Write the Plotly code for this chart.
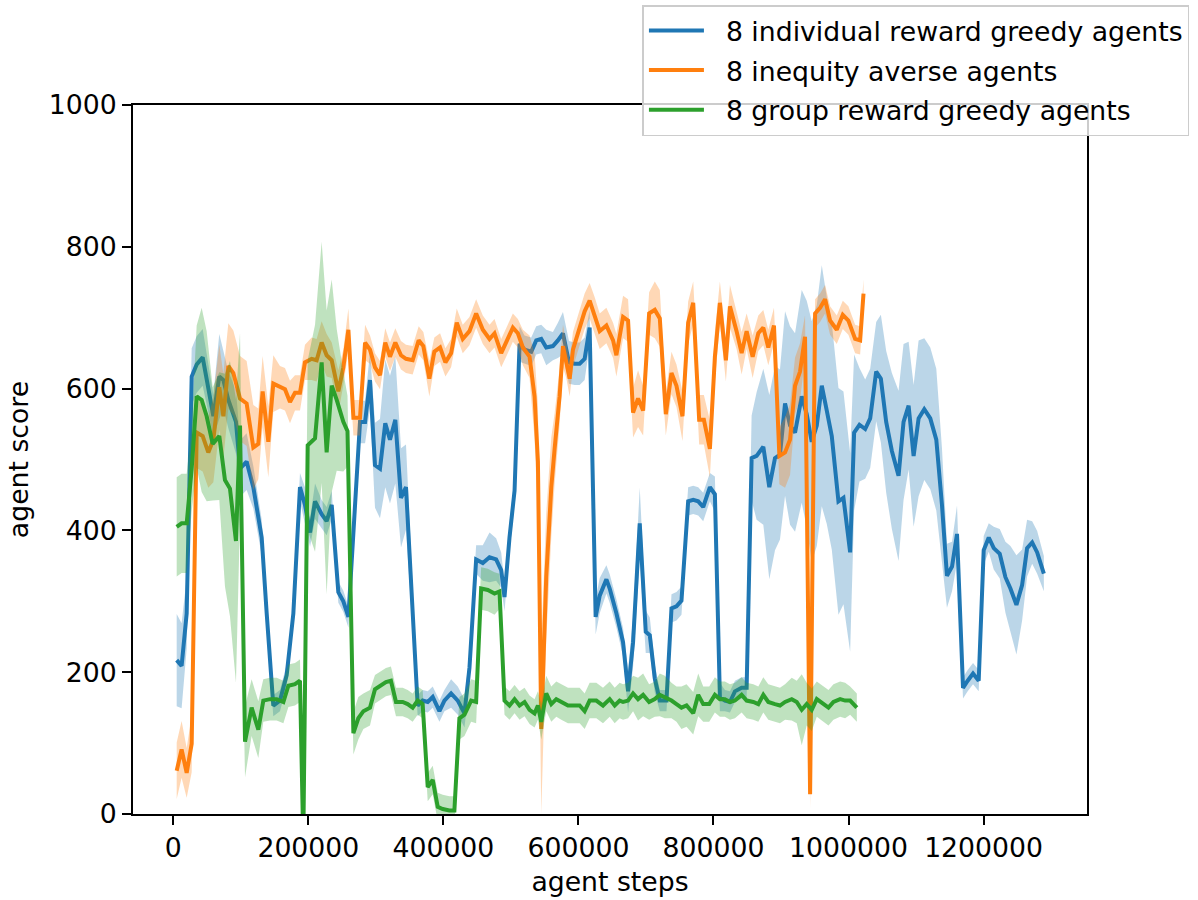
import plotly.graph_objects as go

# ---------------- data ----------------
blue_x = [5000, 12300, 19800, 27200, 34600, 43500, 50400, 59300, 68100, 74100,
          81500, 92800, 98800, 108600, 118500, 130900, 138300, 148100, 158000, 167900,
          177800, 187600, 195000, 202500, 209900, 219700, 227100, 234600, 244400, 251800,
          259300, 276500, 284000, 291300, 298700, 306100, 313900, 320900, 328800, 337200,
          344600, 352000, 361900, 369300, 376800, 384200, 394100, 401500, 411400, 421300,
          431200, 438600, 448500, 458400, 468300, 478100, 485600, 490500, 497900, 505400,
          512800, 520200, 530100, 537500, 544900, 552300, 562200, 569600, 577100, 586000,
          594400, 601800, 609200, 616600, 625500, 631500, 641400, 646300, 656200, 666100,
          673500, 680900, 690800, 699700, 705700, 713100, 720500, 730400, 737800, 745200,
          752600, 762500, 770000, 777400, 784800, 794700, 802100, 809500, 817000, 824400,
          831800, 841700, 849100, 856500, 863900, 873800, 882700, 891100, 898500, 906000,
          913400, 920800, 930700, 938100, 945500, 953000, 960400, 967800, 975200, 985100,
          992500, 1002400, 1008300, 1016200, 1024700, 1032100, 1041000, 1047900, 1055800, 1064200,
          1074100, 1081500, 1089000, 1096400, 1103800, 1112200, 1121100, 1130000, 1138400, 1145800,
          1153300, 1160700, 1169600, 1176500, 1184400, 1192800, 1200200, 1207700, 1215100, 1224000,
          1232400, 1239800, 1248700, 1257100, 1264500, 1272000, 1279400, 1289300]
blue_y = [217, 209, 283, 617, 634, 644, 608, 561, 617, 612,
          584, 553, 487, 497, 461, 390, 283, 153, 160, 196,
          283, 461, 436, 397, 441, 423, 413, 436, 313, 300,
          278, 553, 553, 612, 492, 487, 551, 528, 556, 446,
          461, 334, 153, 160, 158, 165, 145, 160, 170, 160,
          142, 206, 359, 354, 362, 359, 344, 306, 390, 456,
          663, 655, 652, 668, 670, 658, 660, 668, 678, 637,
          635, 635, 642, 686, 278, 308, 331, 318, 283, 242,
          173, 242, 410, 257, 252, 191, 160, 160, 290, 293,
          301, 441, 443, 441, 433, 461, 451, 165, 160, 158,
          173, 178, 178, 502, 505, 518, 461, 502, 507, 579,
          548, 538, 589, 564, 525, 548, 604, 569, 533, 441,
          446, 369, 538, 549, 543, 558, 624, 614, 553, 512,
          477, 553, 576, 505, 558, 571, 558, 528, 436, 336,
          349, 395, 178, 188, 198, 188, 372, 390, 375, 367,
          334, 318, 295, 323, 375, 383, 369, 339]
blue_spread = [65, 60, 50, 40, 40, 40, 35, 30, 60, 40,
               40, 45, 40, 40, 30, 25, 20, 15, 15, 15,
               15, 20, 25, 20, 25, 20, 20, 20, 15, 15,
               15, 30, 30, 40, 60, 70, 90, 90, 90, 70,
               60, 40, 15, 15, 15, 15, 15, 15, 20, 20,
               20, 20, 20, 25, 35, 30, 25, 20, 20, 20,
               25, 20, 20, 20, 20, 25, 20, 25, 30, 30,
               30, 30, 30, 25, 25, 25, 20, 20, 20, 20,
               30, 35, 50, 30, 25, 20, 15, 15, 20, 20,
               20, 20, 20, 20, 20, 20, 25, 20, 15, 15,
               15, 15, 15, 60, 90, 110, 130, 130, 120, 130,
               140, 140, 150, 160, 170, 170, 170, 160, 160, 160,
               150, 140, 110, 80, 70, 70, 70, 90, 100, 110,
               120, 110, 90, 100, 110, 100, 100, 100, 80, 45,
               35, 40, 15, 15, 15, 15, 20, 20, 30, 35,
               50, 60, 70, 50, 40, 30, 30, 25]

orange_x = [5000, 12300, 19800, 27200, 34600, 43500, 51800, 59300, 68100, 74100,
            81500, 88900, 98800, 108600, 118500, 125900, 132300, 140700, 148100, 158000,
            165400, 172800, 180200, 187600, 195000, 204900, 212300, 219700, 227100, 234600,
            244400, 251800, 259300, 266700, 276500, 284000, 291300, 298700, 306100, 313900,
            320900, 328800, 337200, 344600, 354500, 363400, 370300, 379200, 386600, 395100,
            403000, 411400, 419800, 428700, 438600, 448500, 458400, 468300, 475700, 485600,
            493000, 502900, 510300, 517700, 527600, 535000, 540000, 544900, 552300, 559800,
            564700, 572100, 577100, 582000, 587000, 591900, 599300, 609200, 616600, 624100,
            631500, 641400, 651300, 656200, 666100, 673500, 680900, 688300, 695800, 704700,
            713100, 720500, 729400, 737800, 745200, 754100, 762500, 770000, 778800, 785800,
            794700, 802100, 809500, 818400, 824400, 834200, 841700, 849100, 858000, 866400,
            873800, 881200, 889600, 897600, 906000, 913400, 920800, 928200, 935600, 943100,
            950500, 957900, 965300, 972700, 982600, 991500, 999800, 1009800, 1017200, 1022200]
orange_y = [61, 91, 58, 99, 538, 533, 510, 528, 602, 561,
            632, 622, 586, 579, 517, 522, 596, 525, 607, 602,
            599, 581, 594, 594, 637, 642, 640, 665, 647, 640,
            596, 630, 683, 559, 559, 665, 655, 630, 619, 665,
            645, 665, 647, 642, 640, 668, 660, 614, 652, 658,
            637, 650, 693, 670, 681, 706, 683, 670, 678, 650,
            665, 686, 678, 658, 645, 589, 497, 120, 334, 461,
            515, 589, 660, 640, 614, 655, 678, 709, 724, 704,
            681, 689, 668, 647, 701, 696, 566, 586, 569, 706,
            711, 699, 564, 622, 604, 561, 693, 721, 556, 556,
            515, 645, 721, 640, 716, 681, 650, 681, 645, 678,
            686, 658, 689, 505, 510, 528, 604, 624, 673, 28,
            706, 714, 726, 696, 683, 704, 696, 670, 668, 734]
orange_spread = [40, 40, 35, 40, 50, 50, 50, 60, 60, 60,
                 60, 60, 60, 60, 60, 50, 50, 50, 40, 30,
                 30, 30, 25, 25, 25, 30, 30, 30, 30, 25,
                 30, 25, 30, 25, 25, 25, 20, 20, 20, 20,
                 20, 20, 20, 20, 20, 20, 20, 25, 20, 20,
                 20, 20, 20, 20, 20, 20, 20, 20, 20, 20,
                 20, 20, 20, 25, 30, 60, 80, 120, 90, 70,
                 50, 40, 30, 25, 25, 25, 25, 25, 25, 25,
                 25, 25, 25, 30, 30, 30, 35, 40, 35, 30,
                 40, 40, 30, 30, 30, 35, 30, 30, 35, 35,
                 40, 35, 30, 30, 30, 25, 30, 25, 30, 25,
                 25, 25, 25, 40, 50, 50, 40, 40, 30, 20,
                 20, 20, 20, 20, 20, 20, 20, 20, 20, 20]

green_x = [5000, 12300, 19800, 27200, 34600, 42000, 49400, 58300, 68100, 76500,
           83900, 92800, 98800, 106200, 116000, 125900, 133300, 143200, 153100, 163000,
           170400, 180200, 187600, 192500, 199000, 209900, 219700, 227100, 234600, 242000,
           251800, 258000, 266700, 274000, 281500, 291300, 298700, 307500, 314900, 322300,
           329800, 339700, 347100, 354500, 361900, 369300, 376800, 384200, 391600, 399000,
           408900, 416300, 423700, 431200, 441100, 448500, 455900, 465800, 475700, 483100,
           490500, 497900, 505400, 512800, 520200, 527600, 535000, 540000, 544900, 552300,
           559800, 567200, 574600, 584500, 594400, 601800, 609200, 616600, 626500, 636400,
           646300, 653700, 661100, 666100, 673500, 680900, 688300, 695800, 704700, 713100,
           720500, 727900, 737800, 745200, 752600, 760100, 770000, 777400, 784800, 793700,
           802100, 809500, 816900, 824400, 831800, 841700, 849100, 859000, 866400, 873800,
           881200, 891100, 898500, 906000, 915900, 923300, 930700, 938100, 945500, 953000,
           962800, 970300, 977700, 987600, 995000, 1002400, 1012300]
green_y = [405, 410, 410, 487, 589, 584, 561, 522, 533, 471,
           459, 385, 548, 102, 150, 119, 160, 162, 162, 158,
           181, 183, 188, -40, 520, 530, 637, 510, 604, 584,
           553, 540, 114, 135, 145, 150, 176, 181, 186, 188,
           158, 158, 155, 150, 160, 155, 38, 48, 10, 7,
           5, 5, 135, 140, 160, 158, 318, 316, 311, 314,
           160, 153, 162, 153, 158, 147, 142, 153, 130, 170,
           155, 162, 158, 153, 153, 153, 145, 160, 160, 153,
           162, 153, 160, 158, 160, 170, 162, 168, 158, 162,
           168, 165, 160, 155, 150, 153, 142, 168, 155, 155,
           168, 162, 162, 158, 160, 168, 160, 158, 155, 168,
           158, 155, 153, 158, 162, 158, 147, 155, 147, 162,
           155, 150, 158, 162, 160, 160, 150]
green_spread = [70, 70, 70, 60, 100, 130, 120, 80, 90, 150,
                180, 200, 130, 50, 40, 40, 30, 30, 30, 30,
                30, 30, 30, 30, 120, 160, 170, 200, 150, 100,
                70, 50, 30, 30, 25, 25, 20, 20, 20, 20,
                20, 20, 20, 20, 20, 20, 20, 20, 20, 20,
                20, 20, 30, 30, 30, 30, 30, 30, 30, 25,
                20, 20, 20, 20, 20, 20, 20, 20, 25, 25,
                25, 25, 25, 25, 25, 25, 25, 25, 25, 25,
                25, 25, 25, 25, 25, 25, 30, 30, 25, 25,
                30, 30, 25, 25, 30, 30, 30, 30, 25, 25,
                25, 25, 25, 25, 25, 25, 25, 25, 25, 25,
                25, 25, 25, 25, 30, 30, 50, 30, 30, 25,
                25, 25, 25, 25, 25, 20, 20]

series_names = ["8 individual reward greedy agents",
                "8 inequity averse agents",
                "8 group reward greedy agents"]
x_ticks = [0, 200000, 400000, 600000, 800000, 1000000, 1200000]
y_ticks = [0, 200, 400, 600, 800, 1000]

# ---------------- figure ----------------
FONT = "DejaVu Sans"
FS = 26.7
colors = ["#1f77b4", "#ff7f0e", "#2ca02c"]
fills = ["rgba(31,119,180,0.3)", "rgba(255,127,14,0.3)", "rgba(44,160,44,0.3)"]
all_series = [(blue_x, blue_y, blue_spread),
              (orange_x, orange_y, orange_spread),
              (green_x, green_y, green_spread)]

fig = go.Figure()
for i, (xs, ys, ss) in enumerate(all_series):
    n = min(len(xs), len(ys), len(ss))
    xs, ys, ss = xs[:n], ys[:n], ss[:n]
    upper = [y + s for y, s in zip(ys, ss)]
    lower = [y - s for y, s in zip(ys, ss)]
    fig.add_trace(go.Scatter(
        x=xs + xs[::-1], y=upper + lower[::-1], fill="toself",
        fillcolor=fills[i], line=dict(width=0), mode="lines",
        hoverinfo="skip", showlegend=False, legendgroup=f"g{i}"))
    fig.add_trace(go.Scatter(
        x=xs, y=ys, mode="lines", name="\u00a0\u00a0" + series_names[i],
        line=dict(color=colors[i], width=4), legendgroup=f"g{i}"))

fig.update_layout(
    width=1198, height=900,
    margin=dict(l=133, r=111, t=105, b=86, autoexpand=False),
    paper_bgcolor="white", plot_bgcolor="white",
    font=dict(family=FONT, size=FS, color="#000000"),
    showlegend=True,
    legend=dict(x=0.534, y=1.141, xanchor="left", yanchor="top",
                bgcolor="rgba(255,255,255,0.8)", bordercolor="#cccccc",
                borderwidth=1.5, font=dict(family=FONT, size=FS),
                itemwidth=55, tracegroupgap=2),
)
fig.update_xaxes(
    range=[-59700, 1353200], tickvals=x_ticks,
    ticktext=[str(v) for v in x_ticks],
    showgrid=False, zeroline=False,
    showline=True, linecolor="black", linewidth=2, mirror=True,
    ticks="outside", ticklen=9, tickwidth=2, tickcolor="black",
    tickfont=dict(family=FONT, size=FS),
    title=dict(text="agent steps", font=dict(family=FONT, size=FS), standoff=10),
)
fig.update_yaxes(
    range=[0, 1000], tickvals=y_ticks,
    ticktext=[str(v) for v in y_ticks],
    showgrid=False, zeroline=False,
    showline=True, linecolor="black", linewidth=2, mirror=True,
    ticks="outside", ticklen=9, tickwidth=2, tickcolor="black",
    tickfont=dict(family=FONT, size=FS),
    title=dict(text="agent score", font=dict(family=FONT, size=FS), standoff=12),
)

fig.write_html("out.html")
